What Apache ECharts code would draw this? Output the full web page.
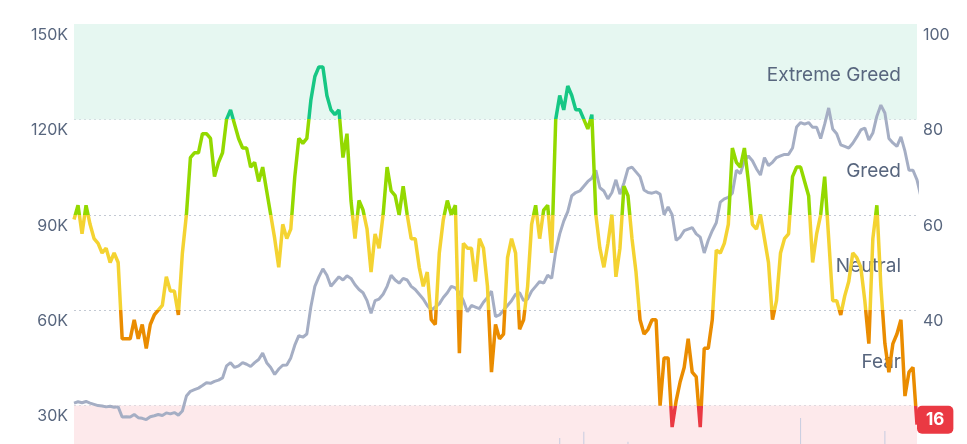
<!DOCTYPE html>
<html>
<head>
<meta charset="utf-8">
<script src="https://cdn.jsdelivr.net/npm/echarts@6/dist/echarts.min.js"></script>
<style>
html,body{margin:0;padding:0;background:#fff;overflow:hidden;}
#chart{width:967px;height:530px;}
</style>
</head>
<body>
<div id="chart"></div>
<script>
// Fear & Greed index (0-100), sampled evenly across the period
const fearGreed = [
59,62,56,62,58,55,54,52,53,50,52,50,34,34,34,38,34,37,32,37,
39,40,41,47,44,44,39,52,60,72,73,73,77,77,76,68,71,73,80,82,
79,76,74,74,70,71,67,70,65,60,55,49,58,55,57,68,76,75,76,84,
89,91,91,85,82,81,82,72,77,63,55,63,61,57,48,56,53,60,70,65,
64,60,66,60,55,55,49,45,48,38,37,52,59,63,60,62,31,54,53,53,
46,55,53,45,27,37,34,35,51,55,52,36,38,45,58,62,55,61,62,52,
80,85,82,87,85,82,82,80,78,81,60,53,49,54,60,47,53,66,64,55,
48,38,35,36,38,38,20,30,30,15.5,21,25,28,34,27,26,15.5,32,32,38,
52.6,52,54,58,74,71,70,74,67,58,57,60,55,50,38,42,52,55,56,68,
70,70,67,64,50,56,60,68,55,42,42,39,43,46,52,51,49,42,33,55,
62,45,33,27,33,35,38,22,27,28,16
];
// BTC price in thousands of USD, same sampling
const priceK = [
30.8,31.2,30.9,31.3,30.8,30.4,30.0,29.9,29.6,29.8,29.5,29.6,26.4,26.5,26.4,27.2,26.2,26.0,25.6,26.5,
26.8,27.2,26.9,27.7,27.4,27.8,27.0,28.3,33,34.5,35,35.5,36.3,37.2,37.0,37.6,38.0,38.7,42.5,43.5,
42,42.5,43.5,43.0,42.3,43.5,44.5,46.5,43.5,42.0,39.8,41.5,42.7,42.8,45,49,52,51.5,52.5,61,
67.5,70.5,73,71,67.5,69,70.5,69.5,70.8,70,68,66.5,65.5,63,59,63,63.5,65,67.5,71,
69.5,68.5,70,69.5,67.5,66.5,65,63.5,61.5,60,61,62,64,65.5,67.5,67,65.5,63,59.5,61.5,
61,60.5,62.5,64,66,58,58.5,60,61.5,63,65,65.5,63,63.5,66,67.5,69,68.5,71,70,
78.5,84,88,91,96,97,97.5,99,100.5,101.5,104,98.5,97.5,95,97,101,96.5,100,104.5,105,
103.5,102,97.8,97,96.8,97.2,96.5,90,92.5,90,82,83,85,85.5,86,84,83,78,82,85,
87.5,94,95,95.5,96.8,104,103,107,108.5,107,104.5,102.5,108,105.5,106.5,108,108.5,109,109,111,
117.6,119,118.5,119,117.5,117.5,114,118.5,123.6,117,115.5,112,111.5,111,112.5,114.5,116.7,117.3,113.5,115.7,
121,124.5,122,114,112.6,111.5,114.5,110,104,104,101,95.6
];
// thin volume spikes visible at the bottom edge (share of the 0-100 scale)
const volumeSpikes = {121: 13.2, 127: 14.5, 138: 12.4, 181: 17.4, 202: 14.7};
const zoneNames = ['Extreme Fear', 'Fear', 'Neutral', 'Greed', 'Extreme Greed'];
const zoneBounds = [0, 20, 40, 60, 80, 100];
const zoneColors = ['#ea3943', '#ea8c00', '#f4d332', '#93d900', '#16c784'];
const priceTicks = [0, 30, 60, 90, 120, 150];

const days = fearGreed.map((_, i) => i);
const volume = days.map(i => volumeSpikes[i] !== undefined ? volumeSpikes[i] : null);

const labelFont = 'Inter, "Noto Sans", sans-serif';
const slate = '#58667e';

const zoneFill = ['#fde9eb', 'transparent', 'transparent', 'transparent', '#e6f7f1'];
const markAreaData = zoneNames.map((n, k) => [
  {name: n, yAxis: zoneBounds[k], itemStyle: {color: zoneFill[k]}},
  {yAxis: zoneBounds[k + 1]}
]);

const chart = echarts.init(document.getElementById('chart'), null, {renderer: 'canvas'});
chart.setOption({
  animation: false,
  textStyle: {fontFamily: labelFont},
  grid: {left: 74, right: 50, top: 24, bottom: 29},
  xAxis: {type: 'category', data: days, boundaryGap: false, show: false},
  yAxis: [
    {
      type: 'value', position: 'left',
      min: priceTicks[0], max: priceTicks[priceTicks.length - 1], interval: 30,
      axisLine: {show: false}, axisTick: {show: false},
      splitLine: {show: true, lineStyle: {type: [2, 3], color: '#c3c9d3', width: 1}},
      axisLabel: {
        formatter: v => (v > 0 ? v + 'K' : ''),
        color: slate, fontSize: 16, fontFamily: labelFont, margin: 6,
        verticalAlign: 'top', padding: [3, 0, 0, 0]
      }
    },
    {
      type: 'value', position: 'right', min: 0, max: 100, interval: 20,
      axisLine: {show: false}, axisTick: {show: false}, splitLine: {show: false},
      axisLabel: {
        formatter: v => (v >= 40 ? String(v) : ''),
        color: slate, fontSize: 16, fontFamily: labelFont, margin: 6,
        verticalAlign: 'top', padding: [3, 0, 0, 0]
      }
    },
    {type: 'value', min: 0, max: 100, show: false}
  ],
  visualMap: {
    show: false, type: 'piecewise', seriesIndex: 1, dimension: 1,
    pieces: zoneColors.map((c, k) => ({gte: zoneBounds[k], lt: zoneBounds[k + 1] + (k === 4 ? 1 : 0), color: c}))
  },
  series: [
    {
      name: 'BTC Price', type: 'line', yAxisIndex: 0, data: priceK,
      symbol: 'none', z: 2,
      lineStyle: {color: '#a5aec4', width: 3},
      itemStyle: {color: '#a5aec4'}
    },
    {
      name: 'Fear & Greed', type: 'line', yAxisIndex: 1, data: fearGreed,
      symbol: 'none', z: 3,
      lineStyle: {width: 3.5},
      endLabel: {
        show: true,
        formatter: p => String(Math.round(p.value)),
        color: '#fff', fontWeight: 'bold', fontSize: 17, fontFamily: labelFont,
        backgroundColor: '#ea3943', borderRadius: 5, padding: [6, 9, 5, 9],
        distance: 0, offset: [0, -5]
      }
    },
    {
      name: 'Volume', type: 'bar', yAxisIndex: 2, data: volume,
      barWidth: 1, z: 1,
      itemStyle: {color: '#c7cce0'},
      markArea: {
        silent: true,
        label: {
          show: true, position: 'insideRight', distance: 16, offset: [0, 4],
          color: slate, fontSize: 19, fontFamily: labelFont
        },
        data: markAreaData
      }
    }
  ]
});
</script>
</body>
</html>
